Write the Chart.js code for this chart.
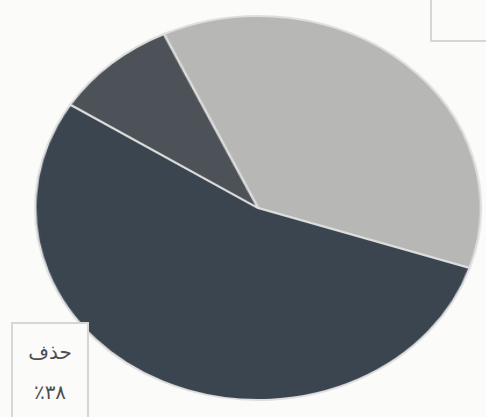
<!DOCTYPE html>
<html>
<head>
<meta charset="utf-8">
<script src="https://cdn.jsdelivr.net/npm/chart.js@4"></script>
<style>
  body { margin: 0; background: #fbfbfa; width: 486px; height: 417px; overflow: hidden; position: relative; }
  #wrap { position: absolute; left: 64px; top: 14px; width: 388px; height: 388px; transform: scaleX(1.16); transform-origin: 50% 50%; }
  .box { position: absolute; border: 2px solid #d6d6d4; background: #fbfbfa; }
  #label { left: 11px; top: 322px; width: 74px; height: 100px; direction: rtl; text-align: center;
           font-family: "DejaVu Sans", sans-serif; color: #4e4e4e; font-size: 20px; }
  #label div { line-height: 40px; }
  #corner { left: 430px; top: -4px; width: 70px; height: 42px; background: transparent; }
</style>
</head>
<body>
<div id="wrap"><canvas id="grafico" width="388" height="388"></canvas></div>
<div class="box" id="corner"></div>
<div class="box" id="label"><div style="margin-top:8px">حذف</div><div>٣٨٪</div></div>
<script>
// fatias no sentido horário a partir do topo
const categorias = ['فاتح', 'داكن', 'متوسط'];
const valores = [37, 54, 9];
const cores = ['#b7b7b5', '#3b4550', '#4d5258'];

const ctx = document.getElementById('grafico').getContext('2d');

new Chart(ctx, {
    type: 'pie',
    data: {
        labels: categorias,
        datasets: [{
            data: valores,
            backgroundColor: cores,
            borderColor: '#dedede',
            borderWidth: 2
        }]
    },
    options: {
        responsive: false,
        animation: false,
        rotation: -25,
        layout: { padding: 1 },
        plugins: {
            legend: { display: false },
            tooltip: { enabled: false }
        }
    }
});
</script>
</body>
</html>
